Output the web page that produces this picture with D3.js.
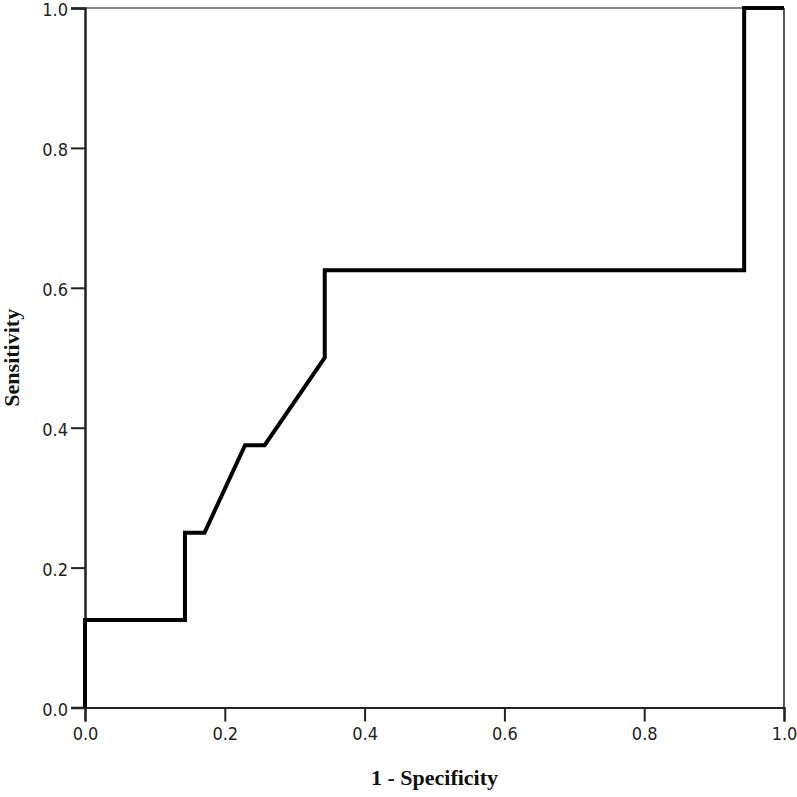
<!DOCTYPE html>
<html>
<head>
<meta charset="utf-8">
<script src="https://cdn.jsdelivr.net/npm/d3@7"></script>
<style>
  html, body { margin: 0; padding: 0; background: #fff; }
  svg { display: block; }
</style>
</head>
<body>
<svg id="chart" width="797" height="797"></svg>
<script>
// ROC curve points (1 - Specificity, Sensitivity)
const fpr = [0, 0, 0.143, 0.143, 0.171, 0.229, 0.257, 0.343, 0.343, 0.943, 0.943, 1.0];
const tpr = [0, 0.125, 0.125, 0.25, 0.25, 0.375, 0.375, 0.5, 0.625, 0.625, 1.0, 1.0];
const tickValues = [0, 0.2, 0.4, 0.6, 0.8, 1.0];
const xTitle = "1 - Specificity";
const yTitle = "Sensitivity";

(function () {
const svg = d3.select("#chart");
const mLeft = 85, mRight = 784, mTop = 8, mBottom = 707.5;

const x = d3.scaleLinear().domain([0, 1]).range([mLeft, mRight]);
const y = d3.scaleLinear().domain([0, 1]).range([mBottom, mTop]);

// frame: top (gray) and right lines
svg.append("line")
  .attr("x1", x(0)).attr("x2", x(1)).attr("y1", y(1)).attr("y2", y(1))
  .attr("stroke", "#8a8a8a").attr("stroke-width", 2);
svg.append("line")
  .attr("x1", x(1)).attr("x2", x(1)).attr("y1", y(1)).attr("y2", y(0))
  .attr("stroke", "#222").attr("stroke-width", 1.5);

const tickFont = "'DejaVu Sans Condensed', 'DejaVu Sans', sans-serif";

// X axis
const xAxis = svg.append("g")
  .attr("transform", `translate(0,${mBottom})`)
  .call(d3.axisBottom(x).tickValues(tickValues).tickFormat(d3.format(".1f")).tickSize(14).tickPadding(6));
xAxis.select(".domain").attr("stroke", "#222").attr("stroke-width", 2.2);
xAxis.selectAll(".tick line").attr("stroke", "#222").attr("stroke-width", 2);
xAxis.selectAll(".tick text").attr("font-family", tickFont).attr("font-size", 18).attr("fill", "#222");

// Y axis
const yAxis = svg.append("g")
  .attr("transform", `translate(${mLeft},0)`)
  .call(d3.axisLeft(y).tickValues(tickValues).tickFormat(d3.format(".1f")).tickSize(14).tickPadding(3));
yAxis.select(".domain").attr("stroke", "#222").attr("stroke-width", 2.5);
yAxis.selectAll(".tick line").attr("stroke", "#222").attr("stroke-width", 2);
yAxis.selectAll(".tick text").attr("font-family", tickFont).attr("font-size", 18).attr("fill", "#222")
  .attr("dy", "0.42em");

// ROC curve
const pts = fpr.map((d, i) => [d, tpr[i]]);
const line = d3.line().x(d => x(d[0])).y(d => y(d[1]));
svg.append("path")
  .datum(pts)
  .attr("d", line)
  .attr("fill", "none")
  .attr("stroke", "#000")
  .attr("stroke-width", 4)
  .attr("stroke-linejoin", "miter");

// Axis titles
svg.append("text")
  .attr("x", (mLeft + mRight) / 2).attr("y", 785)
  .attr("text-anchor", "middle")
  .attr("font-family", "'Liberation Serif', 'Times New Roman', serif")
  .attr("font-weight", "bold").attr("font-size", 22)
  .attr("fill", "#111")
  .text(xTitle);

svg.append("text")
  .attr("transform", `translate(19,${(mTop + mBottom) / 2}) rotate(-90)`)
  .attr("text-anchor", "middle")
  .attr("font-family", "'Liberation Serif', 'Times New Roman', serif")
  .attr("font-weight", "bold").attr("font-size", 22)
  .attr("fill", "#111")
  .text(yTitle);
})();
</script>
</body>
</html>
